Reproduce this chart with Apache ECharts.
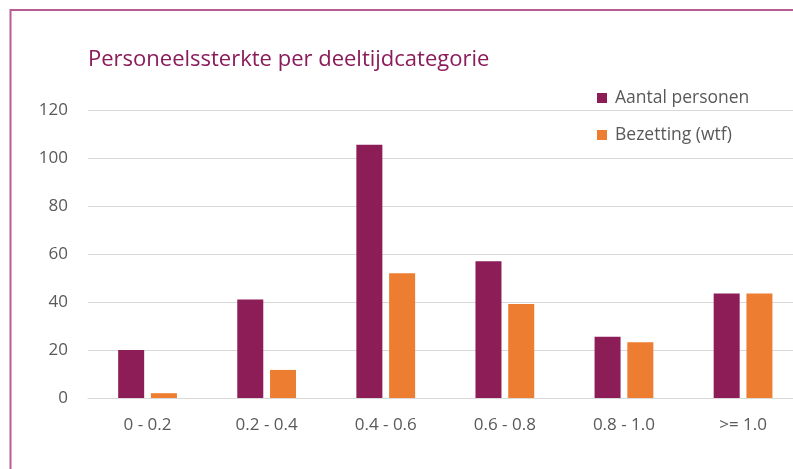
<!DOCTYPE html>
<html>
<head>
<meta charset="utf-8">
<script src="https://cdn.jsdelivr.net/npm/echarts@6/dist/echarts.min.js"></script>
<style>html,body{margin:0;padding:0;background:#fff;overflow:hidden;}#c{width:830px;height:469px;}</style>
</head>
<body>
<div id="c"></div>
<script>
const categories = ['0 - 0.2', '0.2 - 0.4', '0.4 - 0.6', '0.6 - 0.8', '0.8 - 1.0', '>= 1.0'];
const aantalPersonen = [20, 41, 105.5, 57, 25.5, 43.5];
const bezetting = [2, 11.7, 52, 39.2, 23.2, 43.5];
const yTicks = [0, 20, 40, 60, 80, 100, 120];

const chart = echarts.init(document.getElementById('c'), null, {renderer: 'canvas'});
const font = 'Open Sans';
chart.setOption({
  animation: false,
  backgroundColor: '#fff',
  graphic: [{
    type: 'rect',
    shape: {x: 10.5, y: 10, width: 900, height: 600},
    style: {fill: 'none', stroke: '#b85c92', lineWidth: 2},
    silent: true
  }],
  title: {
    text: 'Personeelssterkte per deeltijdcategorie',
    left: 88, top: 49, padding: 0,
    textStyle: {color: '#8b1c5a', fontFamily: font, fontSize: 22, fontWeight: 'normal'}
  },
  legend: {
    orient: 'vertical',
    left: 597, top: 89, padding: 0,
    itemWidth: 10, itemHeight: 10, itemGap: 19,
    icon: 'rect',
    textStyle: {color: '#595959', fontFamily: font, fontSize: 17.5, padding: [0, 0, 0, 3]},
    data: ['Aantal personen', 'Bezetting (wtf)']
  },
  grid: {left: 88, top: 110, width: 714.6, height: 288, containLabel: false},
  xAxis: {
    type: 'category',
    data: categories,
    axisTick: {show: false},
    axisLine: {lineStyle: {color: '#d9d9d9', width: 1}},
    axisLabel: {color: '#595959', fontFamily: font, fontSize: 17, margin: 19}
  },
  yAxis: {
    type: 'value',
    min: yTicks[0], max: yTicks[yTicks.length - 1], interval: 20,
    axisLine: {show: false},
    axisTick: {show: false},
    splitLine: {lineStyle: {color: '#d9d9d9', width: 1}},
    axisLabel: {color: '#595959', fontFamily: font, fontSize: 17, margin: 20}
  },
  series: [
    {name: 'Aantal personen', type: 'bar', data: aantalPersonen, barWidth: 26, barGap: '26%',
     itemStyle: {color: '#8c1d57'}},
    {name: 'Bezetting (wtf)', type: 'bar', data: bezetting, barWidth: 26, barGap: '26%',
     itemStyle: {color: '#ed7d31'}}
  ]
});
</script>
</body>
</html>
